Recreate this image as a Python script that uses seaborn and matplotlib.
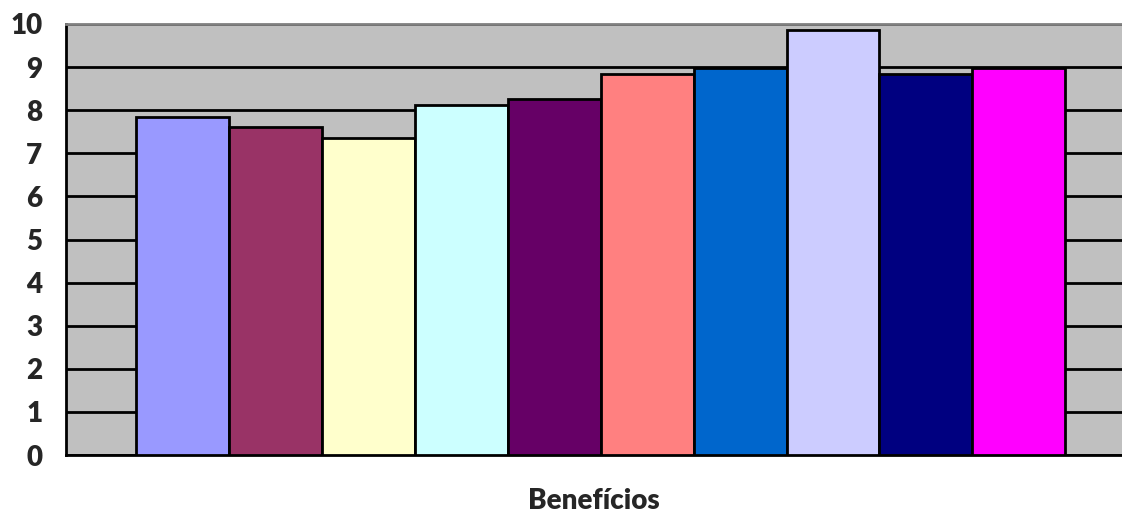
import pandas as pd
import matplotlib.pyplot as plt
import seaborn as sns

# Data
series = ["S1", "S2", "S3", "S4", "S5", "S6", "S7", "S8", "S9", "S10"]
values = [7.84, 7.61, 7.36, 8.11, 8.25, 8.85, 8.98, 9.87, 8.85, 8.98]
colors = ["#9999FF", "#993366", "#FFFFCC", "#CCFFFF", "#660066",
          "#FF8080", "#0066CC", "#CCCCFF", "#000080", "#FF00FF"]
y_ticks = list(range(0, 11))
x_title = "Benefícios"

df = pd.DataFrame({"serie": series, "valor": values})

sns.set_style("white")
plt.rcParams['font.family'] = ['Lato', 'DejaVu Sans']

fig = plt.figure(figsize=(11.22, 5.16), dpi=100)
ax = fig.add_axes([66 / 1122, 61 / 516, 1 - 66 / 1122, (455 - 24) / 516])
ax.set_facecolor("#C0C0C0")

sns.barplot(data=df, x="serie", y="valor", hue="serie", palette=colors,
            saturation=1, width=1.0, edgecolor="black", linewidth=2,
            legend=False, ax=ax, zorder=3)

ax.set_ylim(0, 10)
ax.set_xlim(-1.253, 10.11)
ax.set_yticks(y_ticks)
ax.set_yticklabels([str(t) for t in y_ticks], fontsize=20, fontweight="heavy")
ax.yaxis.grid(True, color="black", linewidth=2, zorder=1)
ax.set_axisbelow(True)

# single category-axis tick at the left edge
ax.set_xticks([-1.253])
ax.set_xticklabels([""])
ax.tick_params(axis="x", direction="out", length=7, width=1.5, color="black")
ax.tick_params(axis="y", direction="out", length=7, width=1.5, color="black", pad=10)

ax.set_xlabel("")
ax.set_ylabel("")
fig.text(594 / 1122, 2 / 516, x_title, ha="center", va="bottom",
         fontsize=20, fontweight="heavy")

for side in ["left", "bottom"]:
    ax.spines[side].set_color("black")
    ax.spines[side].set_linewidth(2)
ax.spines["top"].set_color("#808080")
ax.spines["top"].set_linewidth(2)
ax.spines["right"].set_visible(False)

fig.savefig("out.png", dpi=100)
